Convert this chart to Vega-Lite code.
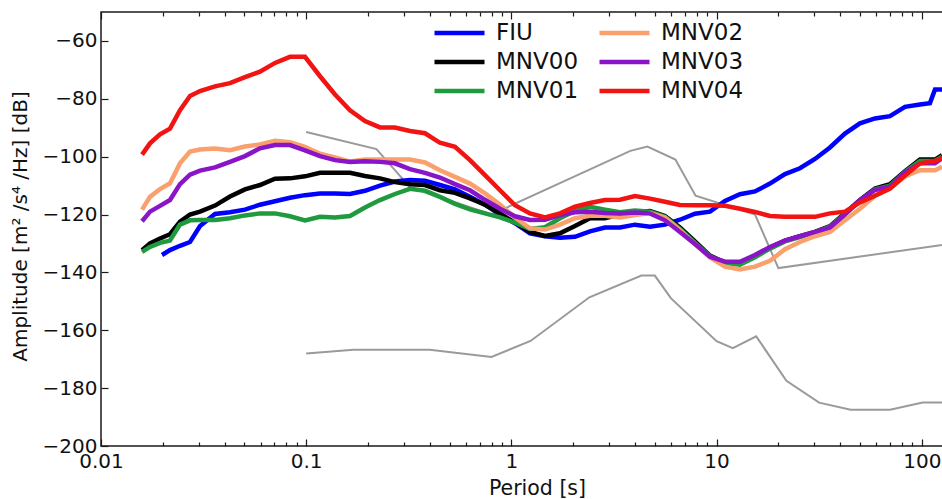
{
  "$schema": "https://vega.github.io/schema/vega-lite/v6.json",
  "width": 842,
  "height": 434,
  "autosize": {"type": "none"},
  "padding": {"left": 101, "top": 12, "right": 0, "bottom": 53},
  "background": "white",
  "config": {
    "font": "DejaVu Sans",
    "view": {"stroke": "#1a1a1a", "strokeWidth": 1.5},
    "axis": {"labelFont": "DejaVu Sans", "titleFont": "DejaVu Sans", "tickColor": "#1a1a1a", "tickWidth": 1.2, "labelColor": "#111111", "titleColor": "#111111", "grid": false, "domain": false, "labelFlush": false, "labelOverlap": false}
  },
  "datasets": {
    "nlnm": [
      {"period": 0.1, "amp": -168.0}, {"period": 0.17, "amp": -166.7}, {"period": 0.4, "amp": -166.7},
      {"period": 0.8, "amp": -169.2}, {"period": 1.24, "amp": -163.7}, {"period": 2.4, "amp": -148.6},
      {"period": 4.3, "amp": -141.1}, {"period": 5.0, "amp": -141.1}, {"period": 6.0, "amp": -149.0},
      {"period": 10.0, "amp": -163.8}, {"period": 12.0, "amp": -166.2}, {"period": 15.6, "amp": -162.1},
      {"period": 21.9, "amp": -177.5}, {"period": 31.6, "amp": -185.0}, {"period": 45.0, "amp": -187.5},
      {"period": 70.0, "amp": -187.5}, {"period": 101.0, "amp": -185.0}, {"period": 154.0, "amp": -185.0}
    ],
    "nhnm": [
      {"period": 0.1, "amp": -91.5}, {"period": 0.22, "amp": -97.4}, {"period": 0.32, "amp": -110.5},
      {"period": 0.8, "amp": -120.0}, {"period": 3.8, "amp": -98.0}, {"period": 4.6, "amp": -96.5},
      {"period": 6.3, "amp": -101.0}, {"period": 7.9, "amp": -113.5}, {"period": 15.4, "amp": -120.0},
      {"period": 20.0, "amp": -138.5}, {"period": 354.8, "amp": -126.0}
    ],
    "fiu": [
      {"station": "FIU", "period": 0.01983, "amp": -134.0}, {"station": "FIU", "period": 0.02169, "amp": -132.3},
      {"station": "FIU", "period": 0.02427, "amp": -130.8}, {"station": "FIU", "period": 0.02715, "amp": -129.5},
      {"station": "FIU", "period": 0.03038, "amp": -124.0}, {"station": "FIU", "period": 0.03594, "amp": -119.8},
      {"station": "FIU", "period": 0.04253, "amp": -119.2}, {"station": "FIU", "period": 0.05031, "amp": -118.3},
      {"station": "FIU", "period": 0.05953, "amp": -116.6}, {"station": "FIU", "period": 0.07047, "amp": -115.4},
      {"station": "FIU", "period": 0.08339, "amp": -114.2}, {"station": "FIU", "period": 0.09867, "amp": -113.3},
      {"station": "FIU", "period": 0.1168, "amp": -112.7}, {"station": "FIU", "period": 0.1382, "amp": -112.7},
      {"station": "FIU", "period": 0.1635, "amp": -112.9}, {"station": "FIU", "period": 0.1934, "amp": -111.8},
      {"station": "FIU", "period": 0.2289, "amp": -110.0}, {"station": "FIU", "period": 0.2708, "amp": -108.6},
      {"station": "FIU", "period": 0.3205, "amp": -108.1}, {"station": "FIU", "period": 0.3793, "amp": -108.3},
      {"station": "FIU", "period": 0.4487, "amp": -109.8}, {"station": "FIU", "period": 0.5311, "amp": -111.3},
      {"station": "FIU", "period": 0.6284, "amp": -113.9}, {"station": "FIU", "period": 0.7436, "amp": -116.6},
      {"station": "FIU", "period": 0.8798, "amp": -120.0}, {"station": "FIU", "period": 1.041, "amp": -123.0},
      {"station": "FIU", "period": 1.232, "amp": -126.5}, {"station": "FIU", "period": 1.458, "amp": -127.5},
      {"station": "FIU", "period": 1.725, "amp": -128.0}, {"station": "FIU", "period": 2.041, "amp": -127.7},
      {"station": "FIU", "period": 2.415, "amp": -125.8}, {"station": "FIU", "period": 2.858, "amp": -124.5},
      {"station": "FIU", "period": 3.382, "amp": -124.5}, {"station": "FIU", "period": 4.002, "amp": -123.5},
      {"station": "FIU", "period": 4.736, "amp": -124.2}, {"station": "FIU", "period": 5.603, "amp": -123.5},
      {"station": "FIU", "period": 6.631, "amp": -121.8}, {"station": "FIU", "period": 7.846, "amp": -119.7},
      {"station": "FIU", "period": 9.286, "amp": -119.0}, {"station": "FIU", "period": 10.99, "amp": -115.3},
      {"station": "FIU", "period": 13.0, "amp": -113.0}, {"station": "FIU", "period": 15.38, "amp": -112.0},
      {"station": "FIU", "period": 18.2, "amp": -109.3}, {"station": "FIU", "period": 21.54, "amp": -106.0},
      {"station": "FIU", "period": 25.49, "amp": -104.0}, {"station": "FIU", "period": 30.16, "amp": -100.8},
      {"station": "FIU", "period": 35.69, "amp": -96.8}, {"station": "FIU", "period": 42.23, "amp": -92.0},
      {"station": "FIU", "period": 49.97, "amp": -88.5}, {"station": "FIU", "period": 59.14, "amp": -86.8},
      {"station": "FIU", "period": 69.98, "amp": -86.0}, {"station": "FIU", "period": 82.81, "amp": -82.8},
      {"station": "FIU", "period": 98.0, "amp": -82.0}, {"station": "FIU", "period": 109.6, "amp": -81.5},
      {"station": "FIU", "period": 116.0, "amp": -76.8}, {"station": "FIU", "period": 125.5, "amp": -76.8}
    ],
    "mnv": [
      {"station": "MNV00", "period": 0.01585, "amp": -132.3}, {"station": "MNV00", "period": 0.01733, "amp": -130.0},
      {"station": "MNV00", "period": 0.01939, "amp": -128.3}, {"station": "MNV00", "period": 0.02169, "amp": -126.8},
      {"station": "MNV00", "period": 0.02427, "amp": -122.5}, {"station": "MNV00", "period": 0.02715, "amp": -120.0},
      {"station": "MNV00", "period": 0.03038, "amp": -119.0}, {"station": "MNV00", "period": 0.03594, "amp": -116.9},
      {"station": "MNV00", "period": 0.04253, "amp": -113.8}, {"station": "MNV00", "period": 0.05031, "amp": -111.3},
      {"station": "MNV00", "period": 0.05953, "amp": -109.8}, {"station": "MNV00", "period": 0.07047, "amp": -107.6},
      {"station": "MNV00", "period": 0.08339, "amp": -107.5}, {"station": "MNV00", "period": 0.09867, "amp": -106.8},
      {"station": "MNV00", "period": 0.1168, "amp": -105.6}, {"station": "MNV00", "period": 0.1382, "amp": -105.6},
      {"station": "MNV00", "period": 0.1635, "amp": -105.6}, {"station": "MNV00", "period": 0.1934, "amp": -106.7},
      {"station": "MNV00", "period": 0.2289, "amp": -107.5}, {"station": "MNV00", "period": 0.2708, "amp": -108.8},
      {"station": "MNV00", "period": 0.3205, "amp": -109.5}, {"station": "MNV00", "period": 0.3793, "amp": -109.8},
      {"station": "MNV00", "period": 0.4487, "amp": -111.6}, {"station": "MNV00", "period": 0.5311, "amp": -112.5},
      {"station": "MNV00", "period": 0.6284, "amp": -114.4}, {"station": "MNV00", "period": 0.7436, "amp": -116.6},
      {"station": "MNV00", "period": 0.8798, "amp": -119.6}, {"station": "MNV00", "period": 1.041, "amp": -122.8},
      {"station": "MNV00", "period": 1.232, "amp": -126.0}, {"station": "MNV00", "period": 1.458, "amp": -127.4},
      {"station": "MNV00", "period": 1.725, "amp": -126.5}, {"station": "MNV00", "period": 2.041, "amp": -124.0},
      {"station": "MNV00", "period": 2.415, "amp": -121.3}, {"station": "MNV00", "period": 2.858, "amp": -121.3},
      {"station": "MNV00", "period": 3.382, "amp": -120.0}, {"station": "MNV00", "period": 4.002, "amp": -119.2},
      {"station": "MNV00", "period": 4.736, "amp": -118.8}, {"station": "MNV00", "period": 5.603, "amp": -120.5},
      {"station": "MNV00", "period": 6.631, "amp": -124.5}, {"station": "MNV00", "period": 7.846, "amp": -129.3},
      {"station": "MNV00", "period": 9.286, "amp": -134.2}, {"station": "MNV00", "period": 10.99, "amp": -136.6},
      {"station": "MNV00", "period": 13.0, "amp": -137.0}, {"station": "MNV00", "period": 15.38, "amp": -134.5},
      {"station": "MNV00", "period": 18.2, "amp": -131.5}, {"station": "MNV00", "period": 21.54, "amp": -129.0},
      {"station": "MNV00", "period": 25.49, "amp": -127.5}, {"station": "MNV00", "period": 30.16, "amp": -126.0},
      {"station": "MNV00", "period": 35.69, "amp": -124.0}, {"station": "MNV00", "period": 42.23, "amp": -119.5},
      {"station": "MNV00", "period": 49.97, "amp": -115.0}, {"station": "MNV00", "period": 59.14, "amp": -111.0},
      {"station": "MNV00", "period": 69.98, "amp": -109.5}, {"station": "MNV00", "period": 82.81, "amp": -105.0},
      {"station": "MNV00", "period": 98.0, "amp": -101.0}, {"station": "MNV00", "period": 116.0, "amp": -101.0},
      {"station": "MNV00", "period": 125.5, "amp": -99.5},

      {"station": "MNV01", "period": 0.01585, "amp": -132.9}, {"station": "MNV01", "period": 0.01733, "amp": -131.2},
      {"station": "MNV01", "period": 0.01939, "amp": -129.8}, {"station": "MNV01", "period": 0.02169, "amp": -129.0},
      {"station": "MNV01", "period": 0.02427, "amp": -123.5}, {"station": "MNV01", "period": 0.02715, "amp": -122.0},
      {"station": "MNV01", "period": 0.03038, "amp": -121.9}, {"station": "MNV01", "period": 0.03594, "amp": -121.9},
      {"station": "MNV01", "period": 0.04253, "amp": -121.3}, {"station": "MNV01", "period": 0.05031, "amp": -120.3},
      {"station": "MNV01", "period": 0.05953, "amp": -119.6}, {"station": "MNV01", "period": 0.07047, "amp": -119.6},
      {"station": "MNV01", "period": 0.08339, "amp": -120.6}, {"station": "MNV01", "period": 0.09867, "amp": -122.0},
      {"station": "MNV01", "period": 0.1168, "amp": -120.8}, {"station": "MNV01", "period": 0.1382, "amp": -121.0},
      {"station": "MNV01", "period": 0.1635, "amp": -120.5}, {"station": "MNV01", "period": 0.1934, "amp": -117.6},
      {"station": "MNV01", "period": 0.2289, "amp": -115.0}, {"station": "MNV01", "period": 0.2708, "amp": -112.9},
      {"station": "MNV01", "period": 0.3205, "amp": -111.1}, {"station": "MNV01", "period": 0.3793, "amp": -111.8},
      {"station": "MNV01", "period": 0.4487, "amp": -113.9}, {"station": "MNV01", "period": 0.5311, "amp": -116.3},
      {"station": "MNV01", "period": 0.6284, "amp": -118.2}, {"station": "MNV01", "period": 0.7436, "amp": -119.6},
      {"station": "MNV01", "period": 0.8798, "amp": -121.0}, {"station": "MNV01", "period": 1.041, "amp": -122.8},
      {"station": "MNV01", "period": 1.232, "amp": -125.0}, {"station": "MNV01", "period": 1.458, "amp": -124.4},
      {"station": "MNV01", "period": 1.725, "amp": -121.3}, {"station": "MNV01", "period": 2.041, "amp": -118.8},
      {"station": "MNV01", "period": 2.415, "amp": -117.3}, {"station": "MNV01", "period": 2.858, "amp": -118.3},
      {"station": "MNV01", "period": 3.382, "amp": -119.2}, {"station": "MNV01", "period": 4.002, "amp": -118.6},
      {"station": "MNV01", "period": 4.736, "amp": -119.0}, {"station": "MNV01", "period": 5.603, "amp": -120.8},
      {"station": "MNV01", "period": 6.631, "amp": -125.0}, {"station": "MNV01", "period": 7.846, "amp": -129.8},
      {"station": "MNV01", "period": 9.286, "amp": -134.4}, {"station": "MNV01", "period": 10.99, "amp": -136.8},
      {"station": "MNV01", "period": 13.0, "amp": -137.3}, {"station": "MNV01", "period": 15.38, "amp": -134.8},
      {"station": "MNV01", "period": 18.2, "amp": -131.8}, {"station": "MNV01", "period": 21.54, "amp": -129.3},
      {"station": "MNV01", "period": 25.49, "amp": -127.8}, {"station": "MNV01", "period": 30.16, "amp": -126.2},
      {"station": "MNV01", "period": 35.69, "amp": -124.2}, {"station": "MNV01", "period": 42.23, "amp": -119.8},
      {"station": "MNV01", "period": 49.97, "amp": -115.4}, {"station": "MNV01", "period": 59.14, "amp": -111.3},
      {"station": "MNV01", "period": 69.98, "amp": -110.0}, {"station": "MNV01", "period": 82.81, "amp": -105.3},
      {"station": "MNV01", "period": 98.0, "amp": -101.5}, {"station": "MNV01", "period": 116.0, "amp": -101.5},
      {"station": "MNV01", "period": 125.5, "amp": -100.0},

      {"station": "MNV02", "period": 0.01585, "amp": -118.3}, {"station": "MNV02", "period": 0.01733, "amp": -113.9},
      {"station": "MNV02", "period": 0.01939, "amp": -111.2}, {"station": "MNV02", "period": 0.02169, "amp": -109.2},
      {"station": "MNV02", "period": 0.02427, "amp": -102.3}, {"station": "MNV02", "period": 0.02715, "amp": -98.2},
      {"station": "MNV02", "period": 0.03038, "amp": -97.5}, {"station": "MNV02", "period": 0.03594, "amp": -97.2},
      {"station": "MNV02", "period": 0.04253, "amp": -97.8}, {"station": "MNV02", "period": 0.05031, "amp": -96.5},
      {"station": "MNV02", "period": 0.05953, "amp": -95.8}, {"station": "MNV02", "period": 0.07047, "amp": -94.5},
      {"station": "MNV02", "period": 0.08339, "amp": -95.0}, {"station": "MNV02", "period": 0.09867, "amp": -96.6},
      {"station": "MNV02", "period": 0.1168, "amp": -99.0}, {"station": "MNV02", "period": 0.1382, "amp": -100.3},
      {"station": "MNV02", "period": 0.1635, "amp": -101.7}, {"station": "MNV02", "period": 0.1934, "amp": -101.0},
      {"station": "MNV02", "period": 0.2289, "amp": -101.0}, {"station": "MNV02", "period": 0.2708, "amp": -101.0},
      {"station": "MNV02", "period": 0.3205, "amp": -101.0}, {"station": "MNV02", "period": 0.3793, "amp": -102.0},
      {"station": "MNV02", "period": 0.4487, "amp": -104.7}, {"station": "MNV02", "period": 0.5311, "amp": -107.0},
      {"station": "MNV02", "period": 0.6284, "amp": -109.3}, {"station": "MNV02", "period": 0.7436, "amp": -112.7},
      {"station": "MNV02", "period": 0.8798, "amp": -116.5}, {"station": "MNV02", "period": 1.041, "amp": -121.0},
      {"station": "MNV02", "period": 1.232, "amp": -124.8}, {"station": "MNV02", "period": 1.458, "amp": -125.2},
      {"station": "MNV02", "period": 1.725, "amp": -123.5}, {"station": "MNV02", "period": 2.041, "amp": -121.3},
      {"station": "MNV02", "period": 2.415, "amp": -120.4}, {"station": "MNV02", "period": 2.858, "amp": -120.4},
      {"station": "MNV02", "period": 3.382, "amp": -121.0}, {"station": "MNV02", "period": 4.002, "amp": -120.2},
      {"station": "MNV02", "period": 4.736, "amp": -119.5}, {"station": "MNV02", "period": 5.603, "amp": -121.0},
      {"station": "MNV02", "period": 6.631, "amp": -125.4}, {"station": "MNV02", "period": 7.846, "amp": -130.2},
      {"station": "MNV02", "period": 9.286, "amp": -134.8}, {"station": "MNV02", "period": 10.99, "amp": -138.0},
      {"station": "MNV02", "period": 13.0, "amp": -139.0}, {"station": "MNV02", "period": 15.38, "amp": -138.0},
      {"station": "MNV02", "period": 18.2, "amp": -136.0}, {"station": "MNV02", "period": 21.54, "amp": -132.0},
      {"station": "MNV02", "period": 25.49, "amp": -129.5}, {"station": "MNV02", "period": 30.16, "amp": -127.5},
      {"station": "MNV02", "period": 35.69, "amp": -126.0}, {"station": "MNV02", "period": 42.23, "amp": -122.0},
      {"station": "MNV02", "period": 49.97, "amp": -118.0}, {"station": "MNV02", "period": 59.14, "amp": -113.5},
      {"station": "MNV02", "period": 69.98, "amp": -111.0}, {"station": "MNV02", "period": 82.81, "amp": -106.8},
      {"station": "MNV02", "period": 98.0, "amp": -104.7}, {"station": "MNV02", "period": 116.0, "amp": -104.7},
      {"station": "MNV02", "period": 125.5, "amp": -103.5},

      {"station": "MNV03", "period": 0.01585, "amp": -122.3}, {"station": "MNV03", "period": 0.01733, "amp": -119.0},
      {"station": "MNV03", "period": 0.01939, "amp": -117.0}, {"station": "MNV03", "period": 0.02169, "amp": -115.0},
      {"station": "MNV03", "period": 0.02427, "amp": -109.5}, {"station": "MNV03", "period": 0.02715, "amp": -106.2},
      {"station": "MNV03", "period": 0.03038, "amp": -104.8}, {"station": "MNV03", "period": 0.03594, "amp": -103.7},
      {"station": "MNV03", "period": 0.04253, "amp": -101.8}, {"station": "MNV03", "period": 0.05031, "amp": -99.8},
      {"station": "MNV03", "period": 0.05953, "amp": -97.1}, {"station": "MNV03", "period": 0.07047, "amp": -96.0},
      {"station": "MNV03", "period": 0.08339, "amp": -96.0}, {"station": "MNV03", "period": 0.09867, "amp": -97.8},
      {"station": "MNV03", "period": 0.1168, "amp": -99.8}, {"station": "MNV03", "period": 0.1382, "amp": -101.2},
      {"station": "MNV03", "period": 0.1635, "amp": -101.8}, {"station": "MNV03", "period": 0.1934, "amp": -101.6},
      {"station": "MNV03", "period": 0.2289, "amp": -101.8}, {"station": "MNV03", "period": 0.2708, "amp": -102.3},
      {"station": "MNV03", "period": 0.3205, "amp": -104.3}, {"station": "MNV03", "period": 0.3793, "amp": -105.6},
      {"station": "MNV03", "period": 0.4487, "amp": -107.2}, {"station": "MNV03", "period": 0.5311, "amp": -109.5},
      {"station": "MNV03", "period": 0.6284, "amp": -111.6}, {"station": "MNV03", "period": 0.7436, "amp": -114.9},
      {"station": "MNV03", "period": 0.8798, "amp": -118.0}, {"station": "MNV03", "period": 1.041, "amp": -120.6},
      {"station": "MNV03", "period": 1.232, "amp": -121.9}, {"station": "MNV03", "period": 1.458, "amp": -121.8},
      {"station": "MNV03", "period": 1.725, "amp": -120.2}, {"station": "MNV03", "period": 2.041, "amp": -119.2},
      {"station": "MNV03", "period": 2.415, "amp": -119.0}, {"station": "MNV03", "period": 2.858, "amp": -119.5},
      {"station": "MNV03", "period": 3.382, "amp": -119.6}, {"station": "MNV03", "period": 4.002, "amp": -119.3},
      {"station": "MNV03", "period": 4.736, "amp": -119.6}, {"station": "MNV03", "period": 5.603, "amp": -122.0},
      {"station": "MNV03", "period": 6.631, "amp": -126.0}, {"station": "MNV03", "period": 7.846, "amp": -130.2},
      {"station": "MNV03", "period": 9.286, "amp": -134.6}, {"station": "MNV03", "period": 10.99, "amp": -136.3},
      {"station": "MNV03", "period": 13.0, "amp": -136.3}, {"station": "MNV03", "period": 15.38, "amp": -134.0},
      {"station": "MNV03", "period": 18.2, "amp": -131.2}, {"station": "MNV03", "period": 21.54, "amp": -129.0},
      {"station": "MNV03", "period": 25.49, "amp": -127.5}, {"station": "MNV03", "period": 30.16, "amp": -126.0},
      {"station": "MNV03", "period": 35.69, "amp": -124.5}, {"station": "MNV03", "period": 42.23, "amp": -120.0},
      {"station": "MNV03", "period": 49.97, "amp": -115.0}, {"station": "MNV03", "period": 59.14, "amp": -111.5},
      {"station": "MNV03", "period": 69.98, "amp": -110.4}, {"station": "MNV03", "period": 82.81, "amp": -105.5},
      {"station": "MNV03", "period": 98.0, "amp": -102.3}, {"station": "MNV03", "period": 116.0, "amp": -102.3},
      {"station": "MNV03", "period": 125.5, "amp": -100.5},

      {"station": "MNV04", "period": 0.01585, "amp": -99.3}, {"station": "MNV04", "period": 0.01733, "amp": -95.4},
      {"station": "MNV04", "period": 0.01939, "amp": -92.3}, {"station": "MNV04", "period": 0.02169, "amp": -90.3},
      {"station": "MNV04", "period": 0.02427, "amp": -83.9}, {"station": "MNV04", "period": 0.02715, "amp": -79.0},
      {"station": "MNV04", "period": 0.03038, "amp": -77.3}, {"station": "MNV04", "period": 0.03594, "amp": -75.7},
      {"station": "MNV04", "period": 0.04253, "amp": -74.6}, {"station": "MNV04", "period": 0.05031, "amp": -72.5},
      {"station": "MNV04", "period": 0.05953, "amp": -70.6}, {"station": "MNV04", "period": 0.07047, "amp": -67.6},
      {"station": "MNV04", "period": 0.08339, "amp": -65.5}, {"station": "MNV04", "period": 0.09867, "amp": -65.5},
      {"station": "MNV04", "period": 0.1168, "amp": -72.2}, {"station": "MNV04", "period": 0.1382, "amp": -78.5},
      {"station": "MNV04", "period": 0.1635, "amp": -84.0}, {"station": "MNV04", "period": 0.1934, "amp": -87.7},
      {"station": "MNV04", "period": 0.2289, "amp": -89.9}, {"station": "MNV04", "period": 0.2708, "amp": -89.9},
      {"station": "MNV04", "period": 0.3205, "amp": -91.1}, {"station": "MNV04", "period": 0.3793, "amp": -91.9},
      {"station": "MNV04", "period": 0.4487, "amp": -95.2}, {"station": "MNV04", "period": 0.5311, "amp": -96.6},
      {"station": "MNV04", "period": 0.6284, "amp": -101.2}, {"station": "MNV04", "period": 0.7436, "amp": -106.4},
      {"station": "MNV04", "period": 0.8798, "amp": -111.6}, {"station": "MNV04", "period": 1.041, "amp": -116.8},
      {"station": "MNV04", "period": 1.232, "amp": -119.6}, {"station": "MNV04", "period": 1.458, "amp": -121.0},
      {"station": "MNV04", "period": 1.725, "amp": -119.6}, {"station": "MNV04", "period": 2.041, "amp": -117.3},
      {"station": "MNV04", "period": 2.415, "amp": -116.0}, {"station": "MNV04", "period": 2.858, "amp": -115.0},
      {"station": "MNV04", "period": 3.382, "amp": -114.9}, {"station": "MNV04", "period": 4.002, "amp": -113.6},
      {"station": "MNV04", "period": 4.736, "amp": -114.5}, {"station": "MNV04", "period": 5.603, "amp": -115.6},
      {"station": "MNV04", "period": 6.631, "amp": -116.7}, {"station": "MNV04", "period": 7.846, "amp": -116.8},
      {"station": "MNV04", "period": 9.286, "amp": -116.8}, {"station": "MNV04", "period": 10.99, "amp": -117.0},
      {"station": "MNV04", "period": 13.0, "amp": -118.0}, {"station": "MNV04", "period": 15.38, "amp": -119.1},
      {"station": "MNV04", "period": 18.2, "amp": -120.5}, {"station": "MNV04", "period": 21.54, "amp": -120.8},
      {"station": "MNV04", "period": 25.49, "amp": -120.8}, {"station": "MNV04", "period": 30.16, "amp": -120.8},
      {"station": "MNV04", "period": 35.69, "amp": -119.6}, {"station": "MNV04", "period": 42.23, "amp": -119.0},
      {"station": "MNV04", "period": 49.97, "amp": -115.8}, {"station": "MNV04", "period": 59.14, "amp": -113.5},
      {"station": "MNV04", "period": 69.98, "amp": -111.0}, {"station": "MNV04", "period": 82.81, "amp": -106.5},
      {"station": "MNV04", "period": 98.0, "amp": -102.3}, {"station": "MNV04", "period": 116.0, "amp": -101.5},
      {"station": "MNV04", "period": 125.5, "amp": -100.5}
    ]
  },
  "resolve": {"axis": {"x": "independent", "y": "independent"}},
  "layer": [
    {
      "data": {"name": "nlnm"},
      "mark": {"type": "line", "color": "#9a9a9a", "strokeWidth": 2, "clip": true},
      "encoding": {
        "x": {
          "field": "period", "type": "quantitative",
          "scale": {"type": "log", "domain": [0.01, 126.9], "nice": false},
          "axis": {
            "orient": "bottom", "values": [0.01, 0.1, 1, 10, 100], "format": "~g",
            "tickSize": -7, "labelPadding": 12, "labelFontSize": 20,
            "title": "Period [s]", "titleFontSize": 20.5, "titleFontWeight": "normal",
            "titleX": 436, "titleY": 42, "titleBaseline": "middle", "titleAlign": "center"
          }
        },
        "y": {
          "field": "amp", "type": "quantitative",
          "scale": {"domain": [-200, -50], "nice": false, "zero": false},
          "axis": {
            "orient": "left", "values": [-200, -180, -160, -140, -120, -100, -80, -60],
            "tickSize": -7, "labelPadding": 11, "labelFontSize": 20,
            "title": "Amplitude [m² /s⁴ /Hz] [dB]", "titleFontSize": 20, "titleFontWeight": "normal",
            "titleX": -81, "titleY": 214, "titleAngle": -90, "titleAlign": "center", "titleBaseline": "middle"
          }
        }
      }
    },
    {
      "data": {"name": "nhnm"},
      "mark": {"type": "line", "color": "#9a9a9a", "strokeWidth": 2, "clip": true},
      "encoding": {
        "x": {
          "field": "period", "type": "quantitative",
          "scale": {"type": "log", "domain": [0.01, 126.9], "nice": false},
          "axis": {"orient": "top", "values": [0.01, 0.1, 1, 10, 100], "tickSize": -7, "labels": false, "title": null}
        },
        "y": {"field": "amp", "type": "quantitative", "axis": null}
      }
    },
    {
      "data": {"name": "fiu"},
      "mark": {"type": "line", "strokeWidth": 4.5, "clip": true},
      "encoding": {
        "x": {
          "field": "period", "type": "quantitative",
          "scale": {"type": "log", "domain": [0.01, 126.9], "nice": false},
          "axis": {
            "orient": "bottom",
            "values": [0.02, 0.03, 0.04, 0.05, 0.06, 0.07, 0.08, 0.09, 0.2, 0.3, 0.4, 0.5, 0.6, 0.7, 0.8, 0.9, 2, 3, 4, 5, 6, 7, 8, 9, 20, 30, 40, 50, 60, 70, 80, 90],
            "tickSize": -4, "labels": false, "title": null
          }
        },
        "y": {"field": "amp", "type": "quantitative", "axis": null},
        "color": {
          "field": "station", "type": "nominal",
          "scale": {"domain": ["FIU", "MNV00", "MNV01", "MNV02", "MNV03", "MNV04"], "range": ["#0000ff", "#000000", "#1f9a3e", "#f9a06c", "#8a14c8", "#f21313"]},
          "legend": {
            "orient": "none", "legendX": 343.5, "legendY": 6, "columns": 2, "title": null,
            "symbolType": "M-2,0H2", "symbolSize": 625, "symbolStrokeWidth": 4.5,
            "labelFontSize": 23, "labelFont": "DejaVu Sans", "labelColor": "#111111", "labelOffset": 21.5,
            "rowPadding": 2, "columnPadding": 12, "padding": 0, "symbolOffset": 0, "labelLimit": 300
          }
        }
      }
    },
    {
      "data": {"name": "mnv"},
      "mark": {"type": "line", "strokeWidth": 4.5, "clip": true},
      "encoding": {
        "x": {
          "field": "period", "type": "quantitative",
          "scale": {"type": "log", "domain": [0.01, 126.9], "nice": false},
          "axis": {
            "orient": "top",
            "values": [0.02, 0.03, 0.04, 0.05, 0.06, 0.07, 0.08, 0.09, 0.2, 0.3, 0.4, 0.5, 0.6, 0.7, 0.8, 0.9, 2, 3, 4, 5, 6, 7, 8, 9, 20, 30, 40, 50, 60, 70, 80, 90],
            "tickSize": -4, "labels": false, "title": null
          }
        },
        "y": {"field": "amp", "type": "quantitative", "axis": null},
        "color": {
          "field": "station", "type": "nominal",
          "scale": {"domain": ["FIU", "MNV00", "MNV01", "MNV02", "MNV03", "MNV04"], "range": ["#0000ff", "#000000", "#1f9a3e", "#f9a06c", "#8a14c8", "#f21313"]},
          "legend": {
            "orient": "none", "legendX": 343.5, "legendY": 6, "columns": 2, "title": null,
            "symbolType": "M-2,0H2", "symbolSize": 625, "symbolStrokeWidth": 4.5,
            "labelFontSize": 23, "labelFont": "DejaVu Sans", "labelColor": "#111111", "labelOffset": 21.5,
            "rowPadding": 2, "columnPadding": 12, "padding": 0, "symbolOffset": 0, "labelLimit": 300
          }
        }
      }
    }
  ]
}
